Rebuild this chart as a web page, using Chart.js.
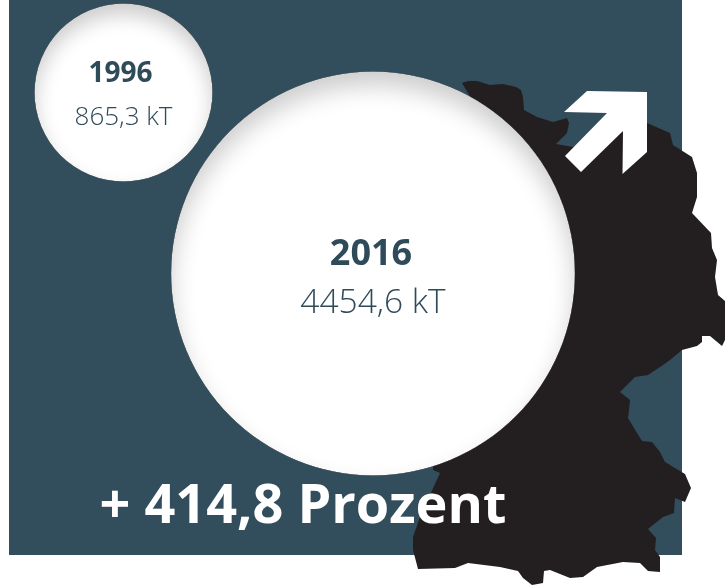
<!DOCTYPE html>
<html lang="de">
<head>
<meta charset="utf-8">
<title>1996 / 2016</title>
<script src="https://cdn.jsdelivr.net/npm/chart.js@4/dist/chart.umd.min.js"></script>
<style>
  html, body { margin: 0; padding: 0; background: #fff; }
  canvas { display: block; }
</style>
</head>
<body>
<canvas id="myChart" width="725" height="585"></canvas>
<script>
// values
const years = ["1996", "2016"];
const tonnes = [865.3, 4454.6];
const valueLabels = ["865,3 kT", "4454,6 kT"];
const changeLabel = "+ 414,8 Prozent";

// where the bubbles sit, the axes just run in canvas pixels
const bubbleX = [123.5, 373];
const bubbleY = [92.5, 273.5];
const radiusPerRoot = 3.025; // circle area follows the value

// germany outline
const mapX = [462, 468, 477, 490, 503, 516, 521, 523, 524, 537, 553, 567, 569, 567, 556, 573, 600, 647, 670, 673, 692, 697, 697, 692, 711, 712, 717, 715, 718, 725, 725, 722, 710, 702, 702, 697, 682, 670, 663, 648, 635, 620, 630, 629, 628, 637, 642, 652, 660, 665, 685, 691, 685, 675, 674, 663, 648, 656, 655, 660, 660, 648, 640, 623, 597, 583, 570, 550, 544, 543, 532, 523, 518, 500, 468, 455, 418, 413, 413, 420, 440, 433, 440, 472];
const mapY = [83, 81, 81, 85, 84, 87, 90, 97, 110, 117, 122, 118, 123, 133, 144, 147, 140, 123, 133, 145, 157, 173, 197, 213, 233, 248, 260, 277, 295, 301, 340, 346, 336, 336, 342, 346, 350, 360, 365, 375, 377, 392, 400, 410, 418, 433, 441, 442, 452, 462, 474, 488, 502, 498, 513, 517, 529, 538, 550, 557, 572, 571, 563, 562, 567, 577, 578, 570, 571, 583, 585, 578, 571, 567, 563, 568, 569, 550, 537, 517, 473, 470, 300, 100];

// arrow
const arrowX = [587, 647, 647, 622.5, 623, 581, 565, 607, 564];
const arrowY = [91, 92, 152, 174, 131, 172, 156, 113, 112];

const zip = (xs, ys) => xs.map((x, i) => ({ x: x, y: ys[i] }));

const panelColor = "#324d5b";
const textColor = "#2f4a59";

const panelPlugin = {
  id: "panel",
  beforeDatasetsDraw(chart) {
    const ctx = chart.ctx;
    ctx.save();
    ctx.fillStyle = panelColor;
    ctx.fillRect(9, 0, 673, 555);
    ctx.restore();
  },
};

const bubbleTextPlugin = {
  id: "bubbleText",
  afterDatasetsDraw(chart) {
    const ctx = chart.ctx;
    const meta = chart.getDatasetMeta(0);
    ctx.save();
    // soft shadow on the inside of each circle, only from above
    meta.data.forEach((point) => {
      const r = point.options.radius;
      ctx.save();
      ctx.beginPath();
      ctx.arc(point.x, point.y, r, 0, Math.PI * 2);
      ctx.clip();
      ctx.shadowColor = "rgba(0,0,0,0.2)";
      ctx.shadowBlur = r > 100 ? 24 : 20;
      ctx.shadowOffsetY = r > 100 ? 14 : 11;
      ctx.fillStyle = "#000";
      ctx.beginPath();
      ctx.rect(point.x - r - 60, point.y - r - 60, 2 * r + 120, 2 * r + 120);
      ctx.arc(point.x, point.y, r, 0, Math.PI * 2, true);
      ctx.fill("evenodd");
      ctx.restore();
    });

    ctx.textAlign = "center";
    ctx.textBaseline = "alphabetic";
    ctx.fillStyle = textColor;
    ctx.font = "700 28px 'Open Sans'";
    ctx.fillText(years[0], meta.data[0].x - 3, 82);
    ctx.font = "300 26px 'Open Sans'";
    ctx.fillText(valueLabels[0], meta.data[0].x, 125);
    ctx.font = "700 36px 'Open Sans'";
    ctx.fillText(years[1], meta.data[1].x - 2, 265);
    ctx.font = "300 33.5px 'Open Sans'";
    ctx.fillText(valueLabels[1], meta.data[1].x, 313);

    ctx.fillStyle = "#fff";
    ctx.font = "700 54px 'Open Sans'";
    ctx.fillText(changeLabel, 303, 523);
    ctx.restore();
  },
};

const ctx = document.getElementById("myChart").getContext("2d");
const myChart = new Chart(ctx, {
  data: {
    datasets: [
      {
        type: "bubble",
        label: "kT",
        order: 1,
        data: tonnes.map((v, i) => ({
          x: bubbleX[i],
          y: bubbleY[i],
          r: radiusPerRoot * Math.sqrt(v),
        })),
        backgroundColor: "#fff",
        borderWidth: 0,
        hoverBorderWidth: 0,
      },
      {
        type: "scatter",
        label: "Pfeil",
        order: 2,
        data: zip(arrowX, arrowY),
        showLine: true,
        fill: "shape",
        backgroundColor: "#fff",
        borderWidth: 0,
        pointRadius: 0,
        tension: 0,
      },
      {
        type: "scatter",
        label: "Deutschland",
        order: 3,
        data: zip(mapX, mapY),
        showLine: true,
        fill: "shape",
        backgroundColor: "#231f20",
        borderWidth: 0,
        pointRadius: 0,
        tension: 0,
      },
    ],
  },
  options: {
    responsive: false,
    animation: false,
    layout: { padding: 0, autoPadding: false }, // big bubble would shrink the area otherwise
    plugins: {
      legend: { display: false },
      tooltip: { enabled: false },
    },
    scales: {
      x: { type: "linear", min: 0, max: 725, display: false },
      y: { type: "linear", min: 0, max: 585, reverse: true, display: false },
    },
  },
  plugins: [panelPlugin, bubbleTextPlugin],
});
</script>
</body>
</html>
